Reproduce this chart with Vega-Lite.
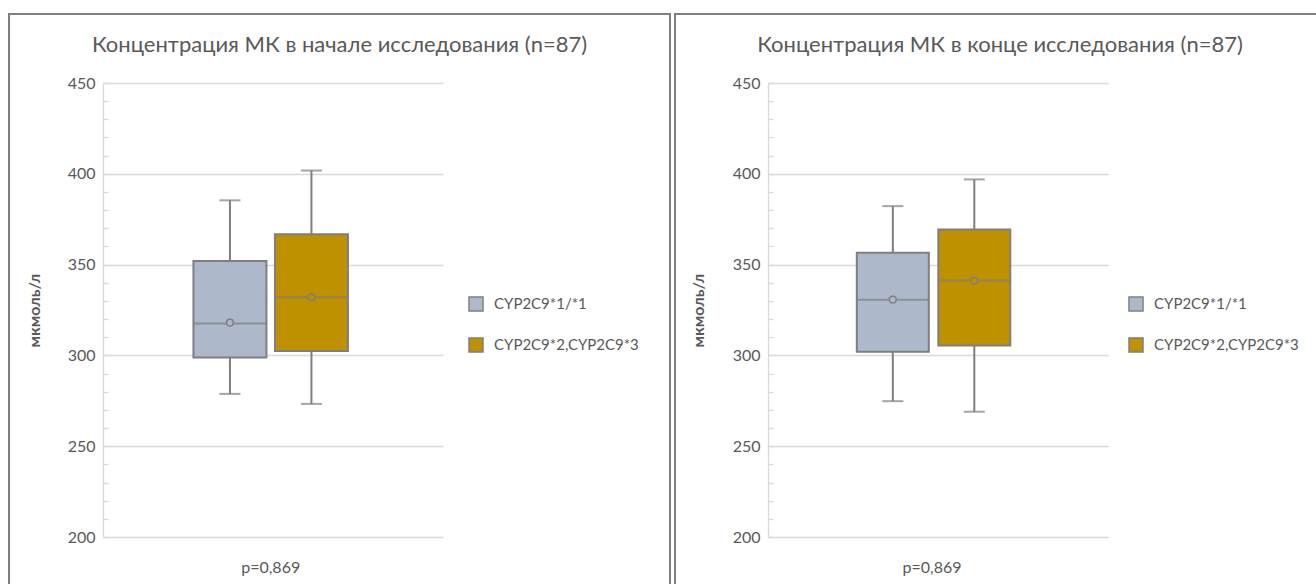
{
  "$schema": "https://vega.github.io/schema/vega-lite/v6.json",
  "padding": {"left": 8, "top": 13, "right": 0, "bottom": 0},
  "background": "white",
  "spacing": 3,
  "config": {
    "font": "Lato",
    "view": {"stroke": "#808080", "strokeWidth": 2},
    "legend": {
      "title": null,
      "symbolType": "square",
      "symbolSize": 196,
      "symbolStrokeColor": "#7f7f7f",
      "symbolStrokeWidth": 1.5,
      "labelFontSize": 15,
      "labelColor": "#595959",
      "labelOffset": 10,
      "rowPadding": 21,
      "padding": 0,
      "labelLimit": 300
    },
    "axisY": {
      "labelOverlap": false, "grid": true, "gridColor": "#D9D9D9", "gridWidth": 1.3,
      "domainColor": "#D9D9D9", "domainWidth": 1.3,
      "ticks": true, "tickSize": -5, "tickColor": "#D9D9D9", "tickWidth": 1.3,
      "labelColor": "#595959", "labelFontSize": 16, "labelPadding": 13,
      "titleColor": "#595959", "titleFontWeight": "bold", "titleFontSize": 16, "titleBaseline": "middle"
    },
    "title": {"fontSize": 22, "fontWeight": "normal", "color": "#595959", "baseline": "alphabetic", "anchor": "middle", "frame": "group"}
  },
  "datasets": {
    "stats": [
      {"stage": "start", "p": "p=0,869", "genotype": "CYP2C9*1/*1", "min": 278.8, "q1": 298.9, "median": 317.6, "q3": 352.0, "max": 385.4, "mean": 318.0},
      {"stage": "start", "p": "p=0,869", "genotype": "CYP2C9*2,CYP2C9*3", "min": 273.3, "q1": 302.4, "median": 332.0, "q3": 366.7, "max": 401.8, "mean": 332.0},
      {"stage": "end", "p": "p=0,869", "genotype": "CYP2C9*1/*1", "min": 274.8, "q1": 302.0, "median": 330.7, "q3": 356.5, "max": 382.2, "mean": 330.7},
      {"stage": "end", "p": "p=0,869", "genotype": "CYP2C9*2,CYP2C9*3", "min": 269.0, "q1": 305.4, "median": 341.2, "q3": 369.3, "max": 396.9, "mean": 341.2}
    ]
  },
  "resolve": {"legend": {"color": "independent"}},
  "hconcat": [
    {
      "width": 661,
      "height": 571,
      "view": {"stroke": "#808080", "strokeWidth": 2, "strokeDash": [1232, 661, 571]},
      "data": {"name": "stats"},
      "transform": [{"filter": "datum.stage == 'start'"}],
      "title": {"text": "Концентрация МК в начале исследования (n=87)", "offset": -43},
      "encoding": {
        "x": {"field": "p", "type": "nominal", "scale": {"range": [94, 434], "paddingInner": 0, "paddingOuter": 0.543, "align": 0.487},
              "axis": {"orient": "bottom", "offset": -18, "domain": false, "ticks": false, "grid": false, "labelAngle": 0, "labelColor": "#595959", "labelFontSize": 16, "labelPadding": 0, "labelBaseline": "middle", "title": null}},
        "xOffset": {"field": "genotype", "type": "nominal", "scale": {"paddingInner": 0, "paddingOuter": 0}}
      },
      "layer": [
        {
          "mark": {"type": "rule", "stroke": "#7f7f7f", "strokeWidth": 2},
          "encoding": {
            "y": {"field": "min", "type": "quantitative", "scale": {"domain": [200, 450], "range": [523, 69], "nice": false, "zero": false},
                  "axis": {"orient": "left", "offset": -94, "title": "мкмоль/л", "titleX": -69, "values": [200, 210, 220, 230, 240, 250, 260, 270, 280, 290, 300, 310, 320, 330, 340, 350, 360, 370, 380, 390, 400, 410, 420, 430, 440, 450], "labelExpr": "abs(datum.value / 50 - round(datum.value / 50)) < 0.01 ? format(round(datum.value), 'd') : ''", "gridOpacity": {"condition": {"test": "abs(datum.value / 50 - round(datum.value / 50)) < 0.01", "value": 1}, "value": 0}}},
            "y2": {"field": "max"}
          }
        },
        {
          "mark": {"type": "bar", "size": 73, "stroke": "#7f7f7f", "strokeWidth": 2},
          "encoding": {
            "y": {"field": "q1", "type": "quantitative",
                  "axis": {"orient": "left", "offset": -94, "title": "мкмоль/л", "titleX": -69, "values": [200, 210, 220, 230, 240, 250, 260, 270, 280, 290, 300, 310, 320, 330, 340, 350, 360, 370, 380, 390, 400, 410, 420, 430, 440, 450], "labelExpr": "abs(datum.value / 50 - round(datum.value / 50)) < 0.01 ? format(round(datum.value), 'd') : ''", "gridOpacity": {"condition": {"test": "abs(datum.value / 50 - round(datum.value / 50)) < 0.01", "value": 1}, "value": 0}}},
            "y2": {"field": "q3"},
            "color": {"field": "genotype", "type": "nominal", "scale": {"domain": ["CYP2C9*1/*1", "CYP2C9*2,CYP2C9*3"], "range": ["#ADB9CA", "#BF9000"]},
                      "legend": {"orient": "none", "legendX": 459, "legendY": 282}}
          }
        },
        {
          "mark": {"type": "tick", "size": 73, "thickness": 2, "color": "#7f7f7f"},
          "encoding": {"y": {"field": "median", "type": "quantitative",
                  "axis": {"orient": "left", "offset": -94, "title": "мкмоль/л", "titleX": -69, "values": [200, 210, 220, 230, 240, 250, 260, 270, 280, 290, 300, 310, 320, 330, 340, 350, 360, 370, 380, 390, 400, 410, 420, 430, 440, 450], "labelExpr": "abs(datum.value / 50 - round(datum.value / 50)) < 0.01 ? format(round(datum.value), 'd') : ''", "gridOpacity": {"condition": {"test": "abs(datum.value / 50 - round(datum.value / 50)) < 0.01", "value": 1}, "value": 0}}}}
        },
        {
          "mark": {"type": "tick", "size": 21, "thickness": 2, "color": "#7f7f7f"},
          "encoding": {"y": {"field": "min", "type": "quantitative",
                  "axis": {"orient": "left", "offset": -94, "title": "мкмоль/л", "titleX": -69, "values": [200, 210, 220, 230, 240, 250, 260, 270, 280, 290, 300, 310, 320, 330, 340, 350, 360, 370, 380, 390, 400, 410, 420, 430, 440, 450], "labelExpr": "abs(datum.value / 50 - round(datum.value / 50)) < 0.01 ? format(round(datum.value), 'd') : ''", "gridOpacity": {"condition": {"test": "abs(datum.value / 50 - round(datum.value / 50)) < 0.01", "value": 1}, "value": 0}}}}
        },
        {
          "mark": {"type": "tick", "size": 21, "thickness": 2, "color": "#7f7f7f"},
          "encoding": {"y": {"field": "max", "type": "quantitative",
                  "axis": {"orient": "left", "offset": -94, "title": "мкмоль/л", "titleX": -69, "values": [200, 210, 220, 230, 240, 250, 260, 270, 280, 290, 300, 310, 320, 330, 340, 350, 360, 370, 380, 390, 400, 410, 420, 430, 440, 450], "labelExpr": "abs(datum.value / 50 - round(datum.value / 50)) < 0.01 ? format(round(datum.value), 'd') : ''", "gridOpacity": {"condition": {"test": "abs(datum.value / 50 - round(datum.value / 50)) < 0.01", "value": 1}, "value": 0}}}}
        },
        {
          "mark": {"type": "point", "shape": "circle", "size": 45, "filled": true, "stroke": "#7f7f7f", "strokeWidth": 1.5, "opacity": 1},
          "encoding": {
            "y": {"field": "mean", "type": "quantitative",
                  "axis": {"orient": "left", "offset": -94, "title": "мкмоль/л", "titleX": -69, "values": [200, 210, 220, 230, 240, 250, 260, 270, 280, 290, 300, 310, 320, 330, 340, 350, 360, 370, 380, 390, 400, 410, 420, 430, 440, 450], "labelExpr": "abs(datum.value / 50 - round(datum.value / 50)) < 0.01 ? format(round(datum.value), 'd') : ''", "gridOpacity": {"condition": {"test": "abs(datum.value / 50 - round(datum.value / 50)) < 0.01", "value": 1}, "value": 0}}},
            "color": {"field": "genotype", "type": "nominal", "legend": {"orient": "none", "legendX": 459, "legendY": 282}}
          }
        }
      ]
    },
    {
      "width": 642,
      "height": 571,
      "view": {"stroke": "#808080", "strokeWidth": 2, "strokeDash": [642, 1213, 571]},
      "data": {"name": "stats"},
      "transform": [{"filter": "datum.stage == 'end'"}],
      "title": {"text": "Концентрация МК в конце исследования (n=87)", "offset": -43, "dx": 4},
      "encoding": {
        "x": {"field": "p", "type": "nominal", "scale": {"range": [93, 433], "paddingInner": 0, "paddingOuter": 0.5625, "align": 0.467},
              "axis": {"orient": "bottom", "offset": -18, "domain": false, "ticks": false, "grid": false, "labelAngle": 0, "labelColor": "#595959", "labelFontSize": 16, "labelPadding": 0, "labelBaseline": "middle", "title": null}},
        "xOffset": {"field": "genotype", "type": "nominal", "scale": {"paddingInner": 0, "paddingOuter": 0}}
      },
      "layer": [
        {
          "mark": {"type": "rule", "stroke": "#7f7f7f", "strokeWidth": 2},
          "encoding": {
            "y": {"field": "min", "type": "quantitative", "scale": {"domain": [200, 450], "range": [523, 69], "nice": false, "zero": false},
                  "axis": {"orient": "left", "offset": -93, "title": "мкмоль/л", "titleX": -70, "values": [200, 210, 220, 230, 240, 250, 260, 270, 280, 290, 300, 310, 320, 330, 340, 350, 360, 370, 380, 390, 400, 410, 420, 430, 440, 450], "labelExpr": "abs(datum.value / 50 - round(datum.value / 50)) < 0.01 ? format(round(datum.value), 'd') : ''", "gridOpacity": {"condition": {"test": "abs(datum.value / 50 - round(datum.value / 50)) < 0.01", "value": 1}, "value": 0}}},
            "y2": {"field": "max"}
          }
        },
        {
          "mark": {"type": "bar", "size": 72, "stroke": "#7f7f7f", "strokeWidth": 2},
          "encoding": {
            "y": {"field": "q1", "type": "quantitative",
                  "axis": {"orient": "left", "offset": -93, "title": "мкмоль/л", "titleX": -70, "values": [200, 210, 220, 230, 240, 250, 260, 270, 280, 290, 300, 310, 320, 330, 340, 350, 360, 370, 380, 390, 400, 410, 420, 430, 440, 450], "labelExpr": "abs(datum.value / 50 - round(datum.value / 50)) < 0.01 ? format(round(datum.value), 'd') : ''", "gridOpacity": {"condition": {"test": "abs(datum.value / 50 - round(datum.value / 50)) < 0.01", "value": 1}, "value": 0}}},
            "y2": {"field": "q3"},
            "color": {"field": "genotype", "type": "nominal", "scale": {"domain": ["CYP2C9*1/*1", "CYP2C9*2,CYP2C9*3"], "range": ["#ADB9CA", "#BF9000"]},
                      "legend": {"orient": "none", "legendX": 453, "legendY": 282}}
          }
        },
        {
          "mark": {"type": "tick", "size": 72, "thickness": 2, "color": "#7f7f7f"},
          "encoding": {"y": {"field": "median", "type": "quantitative",
                  "axis": {"orient": "left", "offset": -93, "title": "мкмоль/л", "titleX": -70, "values": [200, 210, 220, 230, 240, 250, 260, 270, 280, 290, 300, 310, 320, 330, 340, 350, 360, 370, 380, 390, 400, 410, 420, 430, 440, 450], "labelExpr": "abs(datum.value / 50 - round(datum.value / 50)) < 0.01 ? format(round(datum.value), 'd') : ''", "gridOpacity": {"condition": {"test": "abs(datum.value / 50 - round(datum.value / 50)) < 0.01", "value": 1}, "value": 0}}}}
        },
        {
          "mark": {"type": "tick", "size": 21, "thickness": 2, "color": "#7f7f7f"},
          "encoding": {"y": {"field": "min", "type": "quantitative",
                  "axis": {"orient": "left", "offset": -93, "title": "мкмоль/л", "titleX": -70, "values": [200, 210, 220, 230, 240, 250, 260, 270, 280, 290, 300, 310, 320, 330, 340, 350, 360, 370, 380, 390, 400, 410, 420, 430, 440, 450], "labelExpr": "abs(datum.value / 50 - round(datum.value / 50)) < 0.01 ? format(round(datum.value), 'd') : ''", "gridOpacity": {"condition": {"test": "abs(datum.value / 50 - round(datum.value / 50)) < 0.01", "value": 1}, "value": 0}}}}
        },
        {
          "mark": {"type": "tick", "size": 21, "thickness": 2, "color": "#7f7f7f"},
          "encoding": {"y": {"field": "max", "type": "quantitative",
                  "axis": {"orient": "left", "offset": -93, "title": "мкмоль/л", "titleX": -70, "values": [200, 210, 220, 230, 240, 250, 260, 270, 280, 290, 300, 310, 320, 330, 340, 350, 360, 370, 380, 390, 400, 410, 420, 430, 440, 450], "labelExpr": "abs(datum.value / 50 - round(datum.value / 50)) < 0.01 ? format(round(datum.value), 'd') : ''", "gridOpacity": {"condition": {"test": "abs(datum.value / 50 - round(datum.value / 50)) < 0.01", "value": 1}, "value": 0}}}}
        },
        {
          "mark": {"type": "point", "shape": "circle", "size": 45, "filled": true, "stroke": "#7f7f7f", "strokeWidth": 1.5, "opacity": 1},
          "encoding": {
            "y": {"field": "mean", "type": "quantitative",
                  "axis": {"orient": "left", "offset": -93, "title": "мкмоль/л", "titleX": -70, "values": [200, 210, 220, 230, 240, 250, 260, 270, 280, 290, 300, 310, 320, 330, 340, 350, 360, 370, 380, 390, 400, 410, 420, 430, 440, 450], "labelExpr": "abs(datum.value / 50 - round(datum.value / 50)) < 0.01 ? format(round(datum.value), 'd') : ''", "gridOpacity": {"condition": {"test": "abs(datum.value / 50 - round(datum.value / 50)) < 0.01", "value": 1}, "value": 0}}},
            "color": {"field": "genotype", "type": "nominal", "legend": {"orient": "none", "legendX": 453, "legendY": 282}}
          }
        }
      ]
    }
  ]
}
